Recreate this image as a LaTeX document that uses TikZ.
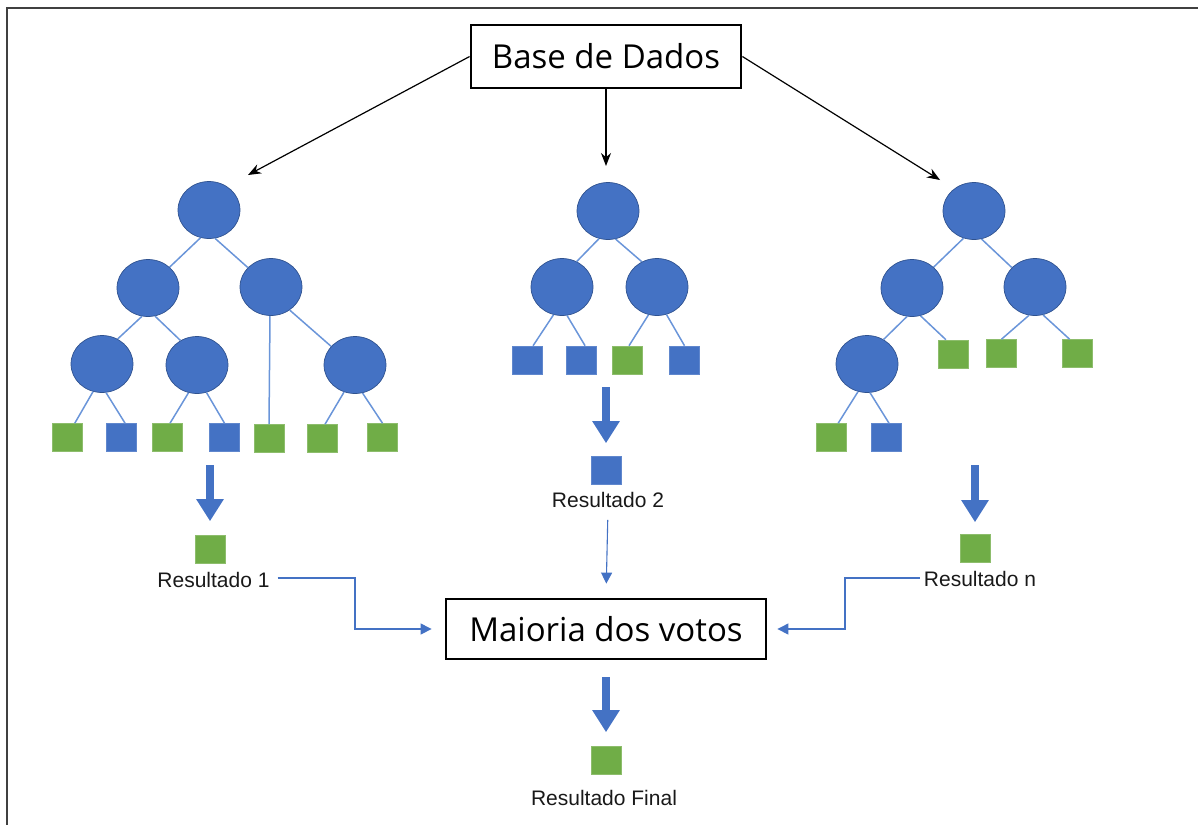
\documentclass[tikz,border=0pt]{standalone}
\usepackage{fontspec}
\setmainfont{Liberation Sans}
\newfontfamily\boxfont{Open Sans}
\usetikzlibrary{shapes.geometric,arrows.meta}

\definecolor{oblue}{HTML}{4472C4}
\definecolor{obluedark}{HTML}{2F528F}
\definecolor{ogreen}{HTML}{70AD47}
\definecolor{edgeblue}{HTML}{6A95D9}

\tikzset{
  inner/.style={ellipse, fill=oblue, draw=obluedark, line width=0.7pt,
    minimum width=62pt, minimum height=57pt, inner sep=0pt},
  leafblue/.style={rectangle, fill=oblue, draw=oblue!85!white, line width=0.6pt,
    minimum width=30pt, minimum height=28pt, inner sep=0pt},
  leafgreen/.style={leafblue, fill=ogreen, draw=ogreen!80!white},
  branch/.style={draw=edgeblue, line width=1.5pt},
  titlebox/.style={rectangle, draw=black, line width=2.8pt, inner sep=0pt,
    font=\boxfont\fontsize{33}{38}\selectfont},
  caption/.style={inner sep=0pt, text=black!90, font=\fontsize{21}{24}\selectfont},
  feed/.style={-{Stealth[length=13pt,width=10pt]}, line width=1.2pt, black},
  fat/.style={-{Triangle[length=22pt,width=26pt]}, line width=8pt, oblue},
  vote/.style={-{Triangle[length=11pt,width=11pt]}, line width=1.1pt, oblue},
}

\begin{document}
\begin{tikzpicture}[x=1pt, y=-1pt]
\useasboundingbox (0,0) rectangle (1198,825);
% frame
\draw[black!75, line width=2pt] (1198,8) -- (7,8) -- (7,825);

% data source
\node[titlebox, minimum width=270pt, minimum height=63pt] (db) at (606,56.5) {Base de Dados};
\coordinate (inA) at (248,175);
\coordinate (inB) at (606,166);
\coordinate (inC) at (940,180);
\draw[feed] (db.west) -- (inA);
\draw[feed] (db.south) -- (inB);
\draw[feed] (db.east) -- (inC);

% ---------------- tree 1 ----------------
\node[inner] (t1r)  at (209,210) {};
\node[inner] (t1a)  at (148,288) {};
\node[inner] (t1b)  at (271,287) {};
\node[inner] (t1aa) at (102,364) {};
\node[inner] (t1ab) at (197,365) {};
\node[inner] (t1bb) at (355,365) {};
\node[leafgreen] (t1l1) at (67.5,437.5) {};
\node[leafblue]  (t1l2) at (121.5,437.5) {};
\node[leafgreen] (t1l3) at (167.5,437.5) {};
\node[leafblue]  (t1l4) at (224.5,437.5) {};
\node[leafgreen] (t1l5) at (269,438.5) {};
\node[leafgreen] (t1l6) at (322.5,438.5) {};
\node[leafgreen] (t1l7) at (382.5,437.5) {};
\draw[branch] (t1r.253) -- (t1a.44);
\draw[branch] (t1r.282) -- (t1b.140);
\draw[branch] (t1a.258) -- (t1aa.58);
\draw[branch] (t1a.284) -- (t1ab.124);
\draw[branch] (t1b.268) -- (t1l5.north);
\draw[branch] (t1b.309) -- (t1bb.142);
\draw[branch] (t1aa.252) -- (t1l1.63);
\draw[branch] (t1aa.278) -- (t1l2.76);
\draw[branch] (t1ab.253) -- (t1l3.80);
\draw[branch] (t1ab.289) -- (t1l4.north);
\draw[branch] (t1bb.248) -- (t1l6.80);
\draw[branch] (t1bb.285) -- (t1l7.north);

% ---------------- tree 2 ----------------
\node[inner] (t2r) at (608,211) {};
\node[inner] (t2a) at (562,287) {};
\node[inner] (t2b) at (657,287) {};
\node[leafblue]  (t2l1) at (527,360) {};
\node[leafblue]  (t2l2) at (581.5,360) {};
\node[leafgreen] (t2l3) at (627.5,360) {};
\node[leafblue]  (t2l4) at (684.5,360) {};
\draw[branch] (t2r.252) -- (t2a.60);
\draw[branch] (t2r.285) -- (t2b.121);
\draw[branch] (t2a.253) -- (t2l1.67);
\draw[branch] (t2a.280) -- (t2l2.76);
\draw[branch] (t2b.253) -- (t2l3.84);
\draw[branch] (t2b.289) -- (t2l4.north);

% ---------------- tree 3 ----------------
\node[inner] (t3r) at (974,211) {};
\node[inner] (t3a) at (912,288) {};
\node[inner] (t3b) at (1035,287) {};
\node[inner] (t3aa) at (867,364) {};
\node[leafgreen] (t3l1) at (953.5,354) {};
\node[leafgreen] (t3l2) at (1001.5,353.5) {};
\node[leafgreen] (t3l3) at (1077.5,353.5) {};
\node[leafgreen] (t3l4) at (831.5,437.5) {};
\node[leafblue]  (t3l5) at (886.5,437.5) {};
\draw[branch] (t3r.249) -- (t3a.44);
\draw[branch] (t3r.285) -- (t3b.140);
\draw[branch] (t3a.260) -- (t3aa.56);
\draw[branch] (t3a.287) -- (t3l1.118);
\draw[branch] (t3b.258) -- (t3l2.north);
\draw[branch] (t3b.286) -- (t3l3.119);
\draw[branch] (t3aa.252) -- (t3l4.65);
\draw[branch] (t3aa.276) -- (t3l5.80);

% ---------------- individual results ----------------
\node[leafgreen] (res1) at (210,549.5) {};
\node[leafblue]  (res2) at (606,470.5) {};
\node[leafgreen] (resn) at (975,548.5) {};
\node[caption] (cap1) at (213.5,580) {Resultado 1};
\node[caption] (cap2) at (608,500) {Resultado 2};
\node[caption] (capn) at (980,579) {Resultado n};

\coordinate (f1) at (210,465);
\coordinate (f2) at (606,387);
\coordinate (f3) at (975,465);
\draw[fat] (f1) -- ([yshift=14pt]res1.north);
\draw[fat] (f2) -- ([yshift=13pt]res2.north);
\draw[fat] (f3) -- ([yshift=12pt]resn.north);

% ---------------- majority vote ----------------
\node[titlebox, minimum width=320pt, minimum height=60pt] (vote) at (606,629) {Maioria dos votos};
\coordinate (k1) at (355,578);
\coordinate (kn) at (845,578);
\draw[vote, shorten <=8pt, shorten >=13pt] (cap1.east |- k1) -- (k1) |- (vote.west);
\draw[vote, shorten <=4pt, shorten >=10pt] (capn.west |- kn) -- (kn) |- (vote.east);
\draw[vote, shorten <=12pt, shorten >=14pt] (cap2.south) -- (vote.north);

% ---------------- final result ----------------
\node[leafgreen] (final) at (606,760.5) {};
\node[caption] (capf) at (604,798) {Resultado Final};
\coordinate (f4) at (606,677);
\draw[fat] (f4) -- ([yshift=14pt]final.north);
\end{tikzpicture}
\end{document}
